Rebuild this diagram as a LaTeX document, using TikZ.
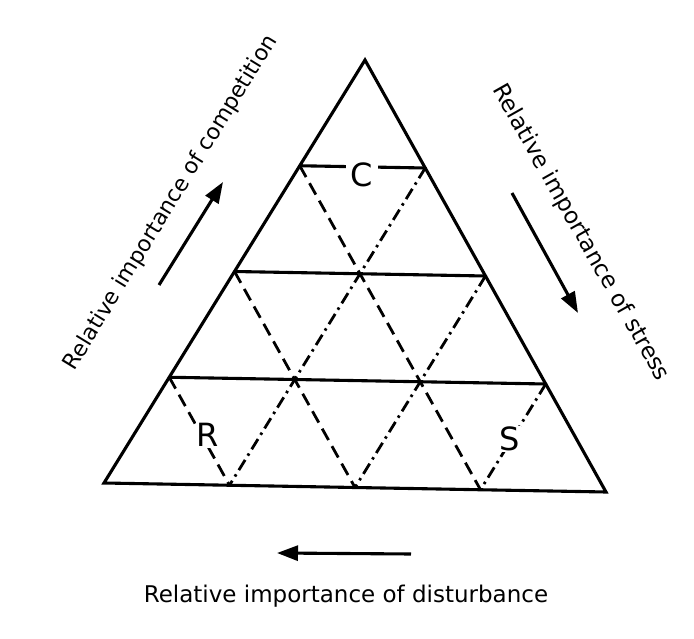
\documentclass[tikz,border=0pt]{standalone}
\usepackage{fontspec}
\setmainfont{DejaVu Sans}
\usetikzlibrary{calc,arrows.meta}
\begin{document}
\begin{tikzpicture}[x=1pt,y=-1pt,
  edge/.style={line width=3.1pt,line cap=round,line join=miter},
  dashline/.style={line width=2.8pt,dash pattern=on 13pt off 7pt},
  dotline/.style={line width=2.8pt,dash pattern=on 12pt off 5pt on 2.5pt off 5pt},
  arrowline/.style={line width=3.1pt,-{Triangle[length=21pt,width=15pt]}},
  caption/.style={font=\fontsize{23}{26}\selectfont,anchor=base,inner sep=0pt},
  corner/.style={font=\fontsize{32}{34}\selectfont,inner sep=0pt}]
\useasboundingbox (0,0) rectangle (694,639);
\fill[white] (0,0) rectangle (694,639);
% triangle vertices
\coordinate (A) at (365,60);
\coordinate (B) at (104,483);
\coordinate (E) at (606,492);
% division points
\coordinate (L1) at ($(A)!0.25!(B)$);
\coordinate (L2) at ($(A)!0.5!(B)$);
\coordinate (L3) at ($(A)!0.75!(B)$);
\coordinate (R1) at ($(A)!0.25!(E)$);
\coordinate (R2) at ($(A)!0.5!(E)$);
\coordinate (R3) at ($(A)!0.75!(E)$);
\coordinate (D1) at ($(B)!0.25!(E)$);
\coordinate (D2) at ($(B)!0.5!(E)$);
\coordinate (D3) at ($(B)!0.75!(E)$);
% horizontal lines
\draw[edge] (L1) -- (R1);
\draw[edge] (L2) -- (R2);
\draw[edge] (L3) -- (R3);
% dashed lines (parallel to right side)
\draw[dashline] (L1) -- (D3);
\draw[dashline] (L2) -- (D2);
\draw[dashline] (L3) -- (D1);
% dash-dot lines (parallel to left side)
\draw[dotline] (R1) -- (D1);
\draw[dotline] (R2) -- (D2);
\draw[dotline] (R3) -- (D3);
% outer triangle
\draw[edge] (A) -- (B) -- (E) -- cycle;
% corner labels
\node[corner,fill=white,inner xsep=5pt] (C) at (362,175) {C};
\node[corner,fill=white,inner sep=1pt] (Rl) at (208,435) {R};
\node[corner,fill=white,inner sep=1pt] (Sl) at (510,439) {S};
% captions
\node[caption,font=\fontsize{22}{25}\selectfont,rotate=58.5] (comp) at (176,206) {Relative importance of competition};
\node[caption,rotate=-60.5] (stress) at (575,236) {Relative importance of stress};
\node[caption] (dist) at (346,602) {Relative importance of disturbance};
% arrows
\coordinate (ca) at (159,285); \coordinate (cb) at (223,182);
\coordinate (sa) at (512,193); \coordinate (sb) at (578,313);
\coordinate (da) at (411,554); \coordinate (db) at (277,553);
\draw[arrowline] (ca) -- (cb);
\draw[arrowline] (sa) -- (sb);
\draw[arrowline] (da) -- (db);
\end{tikzpicture}
\end{document}
